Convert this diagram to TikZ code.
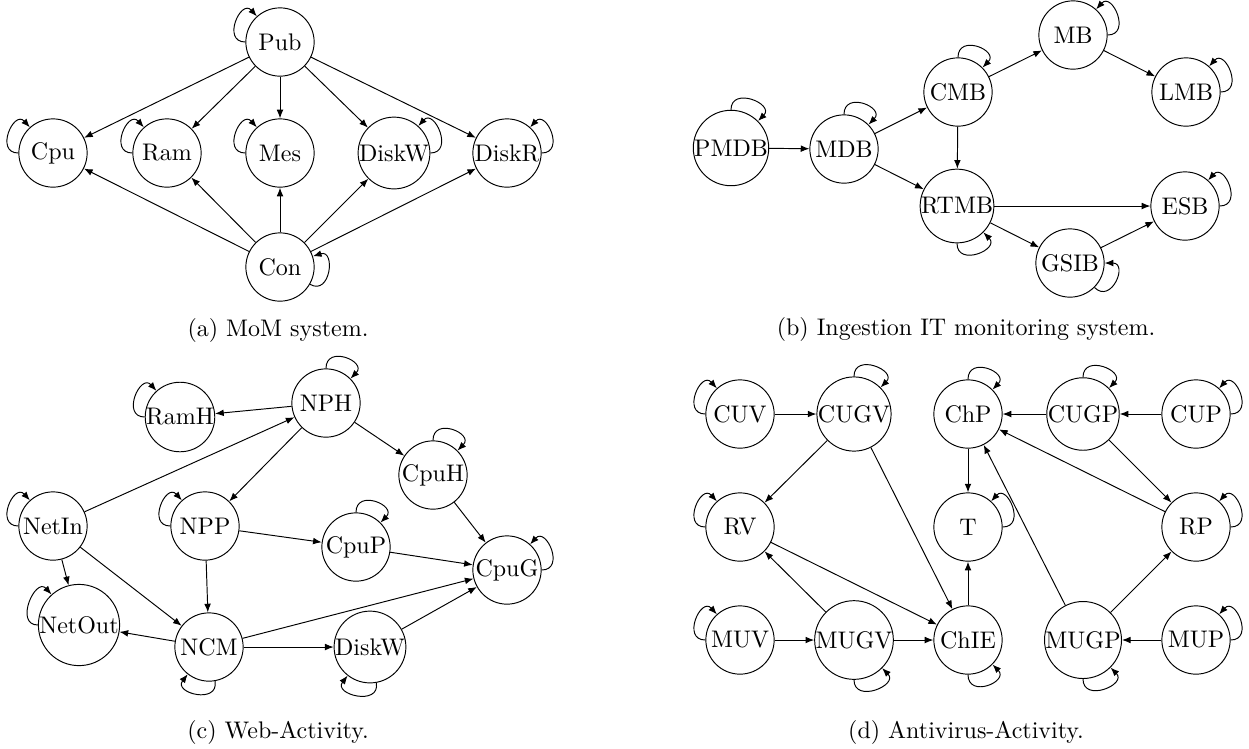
\documentclass[tikz,border=0pt]{standalone}
\usetikzlibrary{arrows.meta}
\begin{document}
\begin{tikzpicture}[x=0.41667pt,y=-0.41667pt,
  st/.style={circle,draw,inner sep=0pt,minimum size=1cm,font=\fontsize{10}{12}\selectfont},
  arr/.style={-{Latex[length=3.6pt,width=2.8pt]}},
  lp/.style={arr,distance=10pt},
  captxt/.style={font=\fontsize{10}{12}\selectfont}]
\useasboundingbox (0,0) rectangle (1249,748);
% ---------- (a) ----------
\node[st] (Pub) at (280,42) {Pub};
\node[st] (Cpu) at (53,153) {Cpu};
\node[st] (Ram) at (167,153) {Ram};
\node[st] (Mes) at (280,153) {Mes};
\node[st] (DiskWa) at (394,153) {DiskW};
\node[st] (DiskR) at (507,153) {DiskR};
\node[st] (Con) at (280,267) {Con};
\node[captxt] (capa) at (278,330) {(a) MoM system.};
\foreach \t in {Cpu,Ram,Mes,DiskWa,DiskR}{
  \draw[arr] (Pub) -- (\t);
  \draw[arr] (Con) -- (\t);
}
\draw[lp] (Pub) to[out=180,in=132] (Pub);
\draw[lp] (Cpu) to[out=180,in=132] (Cpu);
\draw[lp] (Ram) to[out=180,in=132] (Ram);
\draw[lp] (Mes) to[out=180,in=132] (Mes);
\draw[lp] (DiskWa) to[out=0,in=48] (DiskWa);
\draw[lp] (DiskR) to[out=0,in=48] (DiskR);
\draw[lp] (Con) to[out=-30,in=18] (Con);
% ---------- (b) ----------
\node[st] (PMDB) at (731,148) {PMDB};
\node[st] (MDB) at (844,149) {MDB};
\node[st] (CMB) at (958,92) {CMB};
\node[st] (MB) at (1073,35) {MB};
\node[st] (LMB) at (1186,92) {LMB};
\node[st] (RTMB) at (957,206) {RTMB};
\node[st] (ESB) at (1185,206) {ESB};
\node[st] (GSIB) at (1070,263) {GSIB};
\node[captxt] (capb) at (966,329) {(b) Ingestion IT monitoring system.};
\draw[arr] (PMDB) -- (MDB);
\draw[arr] (MDB) -- (CMB);
\draw[arr] (MDB) -- (RTMB);
\draw[arr] (CMB) -- (MB);
\draw[arr] (CMB) -- (RTMB);
\draw[arr] (MB) -- (LMB);
\draw[arr] (RTMB) -- (ESB);
\draw[arr] (RTMB) -- (GSIB);
\draw[arr] (GSIB) -- (ESB);
\draw[lp] (PMDB) to[out=90,in=45] (PMDB);
\draw[lp] (MDB) to[out=90,in=45] (MDB);
\draw[lp] (CMB) to[out=90,in=45] (CMB);
\draw[lp] (MB) to[out=0,in=48] (MB);
\draw[lp] (LMB) to[out=0,in=48] (LMB);
\draw[lp] (ESB) to[out=0,in=48] (ESB);
\draw[lp] (RTMB) to[out=-90,in=-45] (RTMB);
\draw[lp] (GSIB) to[out=-45,in=0] (GSIB);
% ---------- (c) ----------
\node[st] (NPH) at (326,403) {NPH};
\node[st] (RamH) at (180,417) {RamH};
\node[st] (CpuH) at (433,475) {CpuH};
\node[st] (NetIn) at (53,526) {NetIn};
\node[st] (NPP) at (205,526) {NPP};
\node[st] (CpuP) at (356,547) {CpuP};
\node[st] (CpuG) at (507,570) {CpuG};
\node[st] (NetOut) at (79,625) {NetOut};
\node[st] (NCM) at (209,647) {NCM};
\node[st] (DiskWc) at (370,647) {DiskW};
\node[captxt] (capc) at (278,732) {(c) Web-Activity.};
\draw[arr] (NPH) -- (RamH);
\draw[arr] (NetIn) -- (NPH);
\draw[arr] (NPH) -- (NPP);
\draw[arr] (NPH) -- (CpuH);
\draw[arr] (CpuH) -- (CpuG);
\draw[arr] (NPP) -- (CpuP);
\draw[arr] (CpuP) -- (CpuG);
\draw[arr] (NPP) -- (NCM);
\draw[arr] (NetIn) -- (NetOut);
\draw[arr] (NetIn) -- (NCM);
\draw[arr] (NCM) -- (NetOut);
\draw[arr] (NCM) -- (DiskWc);
\draw[arr] (NCM) -- (CpuG);
\draw[arr] (DiskWc) -- (CpuG);
\draw[lp] (NPH) to[out=90,in=45] (NPH);
\draw[lp] (RamH) to[out=180,in=132] (RamH);
\draw[lp] (CpuH) to[out=90,in=45] (CpuH);
\draw[lp] (NetIn) to[out=180,in=132] (NetIn);
\draw[lp] (NPP) to[out=180,in=132] (NPP);
\draw[lp] (CpuP) to[out=90,in=45] (CpuP);
\draw[lp] (CpuG) to[out=0,in=48] (CpuG);
\draw[lp] (NetOut) to[out=180,in=132] (NetOut);
\draw[lp] (NCM) to[out=-80,in=-128] (NCM);
\draw[lp] (DiskWc) to[out=-80,in=-128] (DiskWc);
% ---------- (d) ----------
\node[st] (CUV) at (740,414) {CUV};
\node[st] (CUGV) at (854,414) {CUGV};
\node[st] (ChP) at (968,414) {ChP};
\node[st] (CUGP) at (1083,414) {CUGP};
\node[st] (CUP) at (1196,414) {CUP};
\node[st] (RV) at (740,527) {RV};
\node[st] (T) at (968,527) {T};
\node[st] (RP) at (1196,527) {RP};
\node[st] (MUV) at (740,640) {MUV};
\node[st] (MUGV) at (854,640) {MUGV};
\node[st] (ChIE) at (968,640) {ChIE};
\node[st] (MUGP) at (1083,640) {MUGP};
\node[st] (MUP) at (1196,640) {MUP};
\node[captxt] (capd) at (966,732) {(d) Antivirus-Activity.};
\draw[arr] (CUV) -- (CUGV);
\draw[arr] (CUGP) -- (ChP);
\draw[arr] (CUP) -- (CUGP);
\draw[arr] (CUGV) -- (RV);
\draw[arr] (CUGV) -- (ChIE);
\draw[arr] (ChP) -- (T);
\draw[arr] (CUGP) -- (RP);
\draw[arr] (RP) -- (ChP);
\draw[arr] (MUGP) -- (ChP);
\draw[arr] (RV) -- (ChIE);
\draw[arr] (MUGV) -- (RV);
\draw[arr] (MUV) -- (MUGV);
\draw[arr] (MUGV) -- (ChIE);
\draw[arr] (ChIE) -- (T);
\draw[arr] (MUGP) -- (RP);
\draw[arr] (MUP) -- (MUGP);
\draw[lp] (CUV) to[out=180,in=132] (CUV);
\draw[lp] (CUGV) to[out=90,in=45] (CUGV);
\draw[lp] (ChP) to[out=90,in=45] (ChP);
\draw[lp] (CUGP) to[out=90,in=45] (CUGP);
\draw[lp] (CUP) to[out=0,in=48] (CUP);
\draw[lp] (RV) to[out=180,in=132] (RV);
\draw[lp] (T) to[out=0,in=48] (T);
\draw[lp] (RP) to[out=0,in=48] (RP);
\draw[lp] (MUV) to[out=180,in=132] (MUV);
\draw[lp] (MUGV) to[out=-90,in=-45] (MUGV);
\draw[lp] (ChIE) to[out=-90,in=-45] (ChIE);
\draw[lp] (MUGP) to[out=-90,in=-45] (MUGP);
\draw[lp] (MUP) to[out=0,in=48] (MUP);
\end{tikzpicture}
\end{document}
